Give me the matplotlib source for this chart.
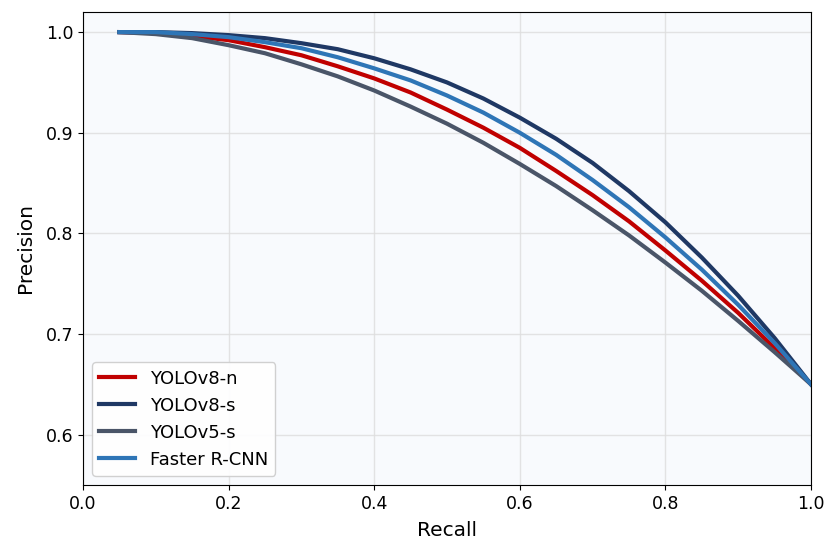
import matplotlib
matplotlib.use("Agg")
import matplotlib.pyplot as plt

recall = [0.05, 0.10, 0.15, 0.20, 0.25, 0.30, 0.35, 0.40, 0.45, 0.50,
          0.55, 0.60, 0.65, 0.70, 0.75, 0.80, 0.85, 0.90, 0.95, 1.00]
yolov8n = [1.000, 0.999, 0.996, 0.992, 0.985, 0.977, 0.966, 0.954, 0.940, 0.923,
           0.905, 0.885, 0.862, 0.838, 0.812, 0.783, 0.753, 0.721, 0.686, 0.650]
yolov8s = [1.000, 1.000, 0.999, 0.997, 0.994, 0.989, 0.983, 0.974, 0.963, 0.950,
           0.934, 0.915, 0.894, 0.870, 0.842, 0.811, 0.776, 0.738, 0.696, 0.650]
yolov5s = [1.000, 0.998, 0.994, 0.987, 0.979, 0.968, 0.956, 0.942, 0.926, 0.909,
           0.890, 0.869, 0.847, 0.823, 0.798, 0.771, 0.743, 0.713, 0.682, 0.650]
faster_rcnn = [1.000, 1.000, 0.998, 0.995, 0.990, 0.984, 0.975, 0.964, 0.952, 0.937,
               0.920, 0.900, 0.878, 0.853, 0.826, 0.796, 0.764, 0.729, 0.691, 0.650]

fig = plt.figure(figsize=(8.28, 5.42), dpi=100)
ax = fig.add_axes([0.1002, 0.1052, 0.8793, 0.8727])
ax.set_facecolor("#f8fafd")

ax.plot(recall, yolov8n, color="#c00000", lw=3, label="YOLOv8-n", solid_joinstyle="round")
ax.plot(recall, yolov8s, color="#1f3864", lw=3, label="YOLOv8-s", solid_joinstyle="round")
ax.plot(recall, yolov5s, color="#4a5568", lw=3, label="YOLOv5-s", solid_joinstyle="round")
ax.plot(recall, faster_rcnn, color="#2e75b6", lw=3, label="Faster R-CNN", solid_joinstyle="round")

ax.set_xlim(0, 1)
ax.set_ylim(0.55, 1.02)
ax.set_yticks([0.6, 0.7, 0.8, 0.9, 1.0])
ax.grid(True, color="#dddddd", lw=1, alpha=0.8)
ax.set_axisbelow(True)
ax.tick_params(labelsize=12.5)
ax.set_xlabel("Recall", fontsize=14.5, labelpad=6)
ax.set_ylabel("Precision", fontsize=14.5, labelpad=8)
ax.legend(loc="lower left", fontsize=13, framealpha=0.9)

fig.savefig("out.png", dpi=100)
